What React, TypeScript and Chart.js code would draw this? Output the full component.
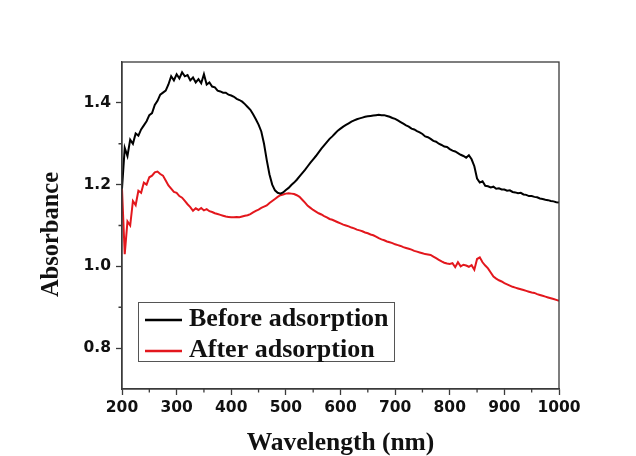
import { useEffect, useRef } from 'react';
import { Chart, registerables } from 'chart.js';

Chart.register(...registerables);

// Wavelength grid (nm)
const wavelengths = [
  200, 205, 210, 215, 220, 225, 230, 235, 240, 245,
  250, 255, 260, 265, 270, 275, 280, 285, 290, 295,
  300, 305, 310, 315, 320, 325, 330, 335, 340, 345,
  350, 355, 360, 365, 370, 375, 380, 385, 390, 395,
  400, 405, 410, 415, 420, 425, 430, 435, 440, 445,
  450, 455, 460, 465, 470, 475, 480, 485, 490, 495,
  500, 505, 510, 515, 520, 525, 530, 535, 540, 545,
  550, 555, 560, 565, 570, 575, 580, 585, 590, 595,
  600, 605, 610, 615, 620, 625, 630, 635, 640, 645,
  650, 655, 660, 665, 670, 675, 680, 685, 690, 695,
  700, 705, 710, 715, 720, 725, 730, 735, 740, 745,
  750, 755, 760, 765, 770, 775, 780, 785, 790, 795,
  800, 805, 810, 815, 820, 825, 830, 835, 840, 845,
  850, 855, 860, 865, 870, 875, 880, 885, 890, 895,
  900, 905, 910, 915, 920, 925, 930, 935, 940, 945,
  950, 955, 960, 965, 970, 975, 980, 985, 990, 995,
  1000,
];

// Absorbance before adsorption
const beforeAbsorbance = [
  1.19, 1.29, 1.27, 1.31, 1.30, 1.325, 1.32, 1.335, 1.345, 1.355,
  1.37, 1.375, 1.395, 1.405, 1.42, 1.425, 1.43, 1.445, 1.465, 1.455,
  1.47, 1.46, 1.475, 1.465, 1.468, 1.455, 1.462, 1.45, 1.458, 1.448,
  1.47, 1.445, 1.45, 1.44, 1.438, 1.43, 1.428, 1.425, 1.425, 1.42,
  1.418, 1.415, 1.41, 1.407, 1.403, 1.397, 1.39, 1.383, 1.372, 1.36,
  1.347, 1.33, 1.30, 1.26, 1.225, 1.20, 1.186, 1.18, 1.178, 1.181,
  1.187, 1.192, 1.199, 1.205, 1.212, 1.22, 1.228, 1.236, 1.245, 1.254,
  1.262, 1.27, 1.279, 1.288, 1.296, 1.304, 1.312, 1.318, 1.325, 1.332,
  1.337, 1.342, 1.346, 1.35, 1.354, 1.357, 1.36, 1.362, 1.364, 1.366,
  1.367, 1.368, 1.369, 1.37, 1.371, 1.37, 1.37, 1.368, 1.366, 1.363,
  1.361, 1.357, 1.353, 1.349, 1.345, 1.342, 1.337, 1.335, 1.331, 1.328,
  1.324, 1.318, 1.316, 1.312, 1.307, 1.305, 1.30, 1.297, 1.293, 1.292,
  1.287, 1.283, 1.281, 1.277, 1.273, 1.27, 1.266, 1.272, 1.262, 1.245,
  1.215, 1.205, 1.208, 1.197, 1.196, 1.193, 1.195, 1.19, 1.191, 1.188,
  1.188, 1.185, 1.186, 1.182, 1.181, 1.179, 1.18, 1.176, 1.175, 1.172,
  1.172, 1.17, 1.169, 1.166, 1.165, 1.163, 1.162, 1.16, 1.159, 1.157,
  1.156,
];

// Absorbance after adsorption
const afterAbsorbance = [
  1.19, 1.03, 1.11, 1.10, 1.16, 1.15, 1.185, 1.18, 1.205, 1.20,
  1.218, 1.222, 1.23, 1.232, 1.226, 1.222, 1.21, 1.198, 1.19, 1.182,
  1.18, 1.172, 1.168, 1.16, 1.152, 1.145, 1.136, 1.142, 1.138, 1.143,
  1.137, 1.14, 1.135, 1.133, 1.13, 1.128, 1.126, 1.124, 1.122, 1.121,
  1.12, 1.12, 1.121, 1.12, 1.122, 1.124, 1.125, 1.128, 1.132, 1.136,
  1.139, 1.143, 1.146, 1.149, 1.155, 1.16, 1.165, 1.17, 1.174, 1.176,
  1.178, 1.179, 1.178, 1.177, 1.174, 1.17, 1.163, 1.156, 1.148, 1.143,
  1.138, 1.134, 1.13, 1.127, 1.123, 1.12, 1.116, 1.114, 1.111, 1.108,
  1.105, 1.102, 1.1, 1.098, 1.095, 1.093, 1.09, 1.088, 1.086, 1.083,
  1.081, 1.078, 1.076, 1.073, 1.069, 1.066, 1.064, 1.061, 1.059, 1.057,
  1.054, 1.052, 1.05, 1.047, 1.045, 1.043, 1.041, 1.038, 1.036, 1.034,
  1.032, 1.03, 1.029, 1.028, 1.024, 1.02, 1.016, 1.012, 1.009, 1.007,
  1.006, 1.008, 0.998, 1.01, 1.0, 1.004, 1.002, 0.999, 1.003, 0.992,
  1.018, 1.022, 1.01, 1.002, 0.995, 0.985, 0.975, 0.97, 0.966, 0.963,
  0.959, 0.956, 0.953, 0.95, 0.948, 0.946, 0.944, 0.942, 0.94, 0.938,
  0.936, 0.935, 0.932, 0.93, 0.928, 0.926, 0.924, 0.922, 0.92, 0.918,
  0.916,
];

const seriesLabels = ['Before adsorption', 'After adsorption'];
const seriesColors = ['#000000', '#e3171d'];

const xMajorTicks = [200, 300, 400, 500, 600, 700, 800, 900, 1000];
const xMinorTicks = [250, 350, 450, 550, 650, 750, 850, 950];
const yMajorTicks = [0.8, 1.0, 1.2, 1.4];
const yMinorTicks = [0.9, 1.1, 1.3];

const xTitle = 'Wavelength (nm)';
const yTitle = 'Absorbance';

const AXIS_COLOR = '#3a3a3a';
const TICK_FONT = { family: '"DejaVu Sans", sans-serif', size: 15.5, weight: 'bold' as const };
const SERIF = '"Liberation Serif", "Times New Roman", serif';

// Draws the closed frame, minor ticks, axis titles and the inset legend
const decorPlugin = {
  id: 'spectrumDecor',
  afterDraw(chart: any) {
    const { ctx, chartArea: a, scales } = chart;
    const xs = scales.x;
    const ys = scales.y;
    ctx.save();

    // frame
    ctx.strokeStyle = AXIS_COLOR;
    ctx.lineWidth = 1.3;
    ctx.strokeRect(a.left, a.top, a.right - a.left, a.bottom - a.top);

    // minor ticks
    ctx.beginPath();
    xMinorTicks.forEach((v) => {
      const px = xs.getPixelForValue(v);
      ctx.moveTo(px, a.bottom);
      ctx.lineTo(px, a.bottom + 3.5);
    });
    yMinorTicks.forEach((v) => {
      const py = ys.getPixelForValue(v);
      ctx.moveTo(a.left, py);
      ctx.lineTo(a.left - 3.5, py);
    });
    ctx.stroke();

    // axis titles
    ctx.fillStyle = '#111';
    ctx.font = `bold 25.5px ${SERIF}`;
    ctx.textAlign = 'center';
    ctx.textBaseline = 'alphabetic';
    ctx.fillText(xTitle, (a.left + a.right) / 2, 450);

    ctx.save();
    ctx.translate(58, (a.top + a.bottom) / 2 + 9);
    ctx.rotate(-Math.PI / 2);
    ctx.font = `bold 24.5px ${SERIF}`;
    ctx.fillText(yTitle, 0, 0);
    ctx.restore();

    // legend
    const boxL = a.left + 16;
    const boxT = a.top + 240;
    const boxW = 256;
    const boxH = 59;
    ctx.fillStyle = '#ffffff';
    ctx.fillRect(boxL, boxT, boxW, boxH);
    ctx.strokeStyle = '#555';
    ctx.lineWidth = 1;
    ctx.strokeRect(boxL + 0.5, boxT + 0.5, boxW, boxH);

    ctx.font = `bold 26px ${SERIF}`;
    ctx.textAlign = 'left';
    chart.data.datasets.forEach((ds: any, i: number) => {
      const lineY = boxT + 18 + i * 31;
      ctx.strokeStyle = ds.borderColor;
      ctx.lineWidth = 2.5;
      ctx.beginPath();
      ctx.moveTo(boxL + 7, lineY);
      ctx.lineTo(boxL + 44, lineY);
      ctx.stroke();
      ctx.fillStyle = '#111';
      ctx.fillText(ds.label, boxL + 51, lineY + 6);
    });

    ctx.restore();
  },
};

export default function App() {
  const canvasRef = useRef<HTMLCanvasElement | null>(null);

  useEffect(() => {
    const canvas = canvasRef.current;
    if (!canvas) return;

    const toPoints = (ys: number[]) => wavelengths.map((w, i) => ({ x: w, y: ys[i] }));

    const chart = new Chart(canvas, {
      type: 'line',
      data: {
        datasets: [
          {
            label: seriesLabels[0],
            data: toPoints(beforeAbsorbance),
            borderColor: seriesColors[0],
            borderWidth: 2,
            pointRadius: 0,
            tension: 0,
          },
          {
            label: seriesLabels[1],
            data: toPoints(afterAbsorbance),
            borderColor: seriesColors[1],
            borderWidth: 2,
            pointRadius: 0,
            tension: 0,
          },
        ],
      },
      options: {
        responsive: false,
        animation: false,
        layout: { padding: { left: 0, top: 62, right: 77, bottom: 0 } },
        plugins: {
          legend: { display: false },
          tooltip: { enabled: false },
        },
        scales: {
          x: {
            type: 'linear',
            min: 200,
            max: 1000,
            afterBuildTicks: (scale: any) => {
              scale.ticks = xMajorTicks.map((v) => ({ value: v }));
            },
            afterFit: (scale: any) => {
              scale.height = 67;
            },
            ticks: {
              font: TICK_FONT,
              color: '#111',
              padding: 4,
              maxRotation: 0,
              autoSkip: false,
              callback: (v: any) => String(v),
            },
            grid: {
              display: true,
              drawOnChartArea: false,
              drawTicks: true,
              tickLength: 6,
              tickColor: AXIS_COLOR,
              tickWidth: 1.3,
            },
            border: { display: true, color: AXIS_COLOR, width: 1.3 },
          },
          y: {
            type: 'linear',
            min: 0.7,
            max: 1.5,
            afterBuildTicks: (scale: any) => {
              scale.ticks = yMajorTicks.map((v) => ({ value: v }));
            },
            afterFit: (scale: any) => {
              scale.width = 122;
            },
            ticks: {
              font: TICK_FONT,
              color: '#111',
              padding: 5,
              autoSkip: false,
              callback: (v: any) => Number(v).toFixed(1),
            },
            grid: {
              display: true,
              drawOnChartArea: false,
              drawTicks: true,
              tickLength: 6,
              tickColor: AXIS_COLOR,
              tickWidth: 1.3,
            },
            border: { display: true, color: AXIS_COLOR, width: 1.3 },
          },
        },
      },
      plugins: [decorPlugin],
    });

    return () => chart.destroy();
  }, []);

  return (
    <div style={{ position: 'absolute', left: 0, top: 0, width: 636, height: 456, background: '#fff' }}>
      <canvas ref={canvasRef} width={636} height={456} style={{ display: 'block' }} />
    </div>
  );
}
